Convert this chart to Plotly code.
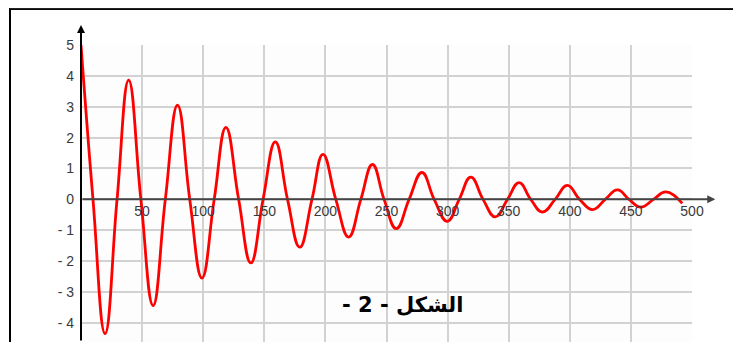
import plotly.graph_objects as go

# Values: extremes and zero crossings of the damped oscillation
t_vals = [0, 9.8, 19.7, 29.5, 39, 49, 59, 69, 79, 89, 99, 109, 118.6, 129, 139, 149,
          159, 169, 179, 189, 198, 208.5, 219, 229, 238.5, 248, 258, 268.5, 279, 289,
          299.7, 309.5, 319, 329, 339, 349, 358.5, 368, 377.6, 388, 398, 408, 418.6,
          429, 439, 448.5, 458, 468.5, 478.7, 492]
y_vals = [5, 0, -4.35, 0, 3.86, 0, -3.44, 0, 3.05, 0, -2.55, 0, 2.33, 0, -2.06, 0,
          1.86, 0, -1.55, 0, 1.46, 0, -1.22, 0, 1.13, 0, -0.95, 0, 0.87, 0,
          -0.71, 0, 0.72, 0, -0.57, 0, 0.54, 0, -0.41, 0, 0.45, 0, -0.33,
          0, 0.31, 0, -0.25, 0, 0.24, -0.13]

x_ticks = [50, 100, 150, 200, 250, 300, 350, 400, 450, 500]
x_ticklabels = ["50", "100", "150", "200", "250", "300", "350", "400", "450", "500"]
y_ticks = [-4, -3, -2, -1, 0, 1, 2, 3, 4, 5]
y_ticklabels = ["- 4", "- 3", "- 2", "- 1", "0", "1", "2", "3", "4", "5"]
caption = "\u200fالشكل - 2 -\u200f"

# page body has an 8px margin, so the figure is drawn 8px in from the window corner
OFF = 8
W, H = 741 - OFF, 342 - OFF
L, R, T, B = 81 - OFF, 49, 45 - OFF, 0
pw, ph = W - L - R, H - T - B
ymin, ymax = -4.62, 5
xmin, xmax = 0, 500

def px2paper_x(px):  # px in window coordinates
    return (px - OFF - L) / pw

def px2paper_y(py):
    return (H - B - (py - OFF)) / ph

fig = go.Figure()
fig.add_trace(go.Scatter(
    x=t_vals, y=y_vals, mode="lines",
    line=dict(color="#ff0000", width=2.8, shape="spline", smoothing=1.3),
    hoverinfo="skip", showlegend=False, cliponaxis=False,
))

tickfont = dict(family="Liberation Sans, Arial, sans-serif", size=14, color="#3a3a3a")

fig.update_layout(
    width=W, height=H,
    margin=dict(l=L, r=R, t=T, b=B, pad=0, autoexpand=False),
    paper_bgcolor="white", plot_bgcolor="#fdfdfd",
    xaxis=dict(
        range=[xmin, xmax], tickvals=x_ticks, ticktext=x_ticklabels,
        showgrid=True, gridcolor="#d2d2d2", gridwidth=2,
        zeroline=False, showline=False, ticks="", ticklen=0,
        anchor="free", position=(0 - ymin) / (ymax - ymin),
        tickfont=tickfont, ticklabelstandoff=2, fixedrange=True,
        automargin=False,
    ),
    yaxis=dict(
        range=[ymin, ymax], tickvals=y_ticks, ticktext=y_ticklabels,
        showgrid=True, gridcolor="#d2d2d2", gridwidth=2,
        zeroline=False, showline=False, ticks="", ticklen=0,
        tickfont=tickfont, ticklabelstandoff=6, fixedrange=True,
        automargin=False,
    ),
    shapes=[
        # outer frame
        dict(type="rect", xref="paper", yref="paper",
             x0=px2paper_x(10), x1=px2paper_x(738),
             y0=px2paper_y(350), y1=px2paper_y(9),
             line=dict(color="black", width=2)),
        dict(type="line", xref="paper", yref="paper",
             x0=px2paper_x(10), x1=px2paper_x(738),
             y0=px2paper_y(8.6), y1=px2paper_y(8.6),
             line=dict(color="#222", width=1.2)),
    ],
    annotations=[
        # x axis with arrow
        dict(x=519, y=0, xref="x", yref="y", ax=0, ay=0, axref="x", ayref="y",
             showarrow=True, arrowhead=2, arrowsize=0.8, arrowwidth=2,
             arrowcolor="#444", text=""),
        # y axis with arrow
        dict(x=0, y=5.65, xref="x", yref="y", ax=0, ay=ymin, axref="x", ayref="y",
             showarrow=True, arrowhead=2, arrowsize=0.8, arrowwidth=2,
             arrowcolor="black", text=""),
        dict(x=px2paper_x(402), y=px2paper_y(305), xref="paper", yref="paper",
             text="<b>" + caption + "</b>", showarrow=False,
             font=dict(family="DejaVu Sans, sans-serif", size=21, color="black"),
             xanchor="center", yanchor="middle"),
    ],
)

fig.write_html("out.html")
